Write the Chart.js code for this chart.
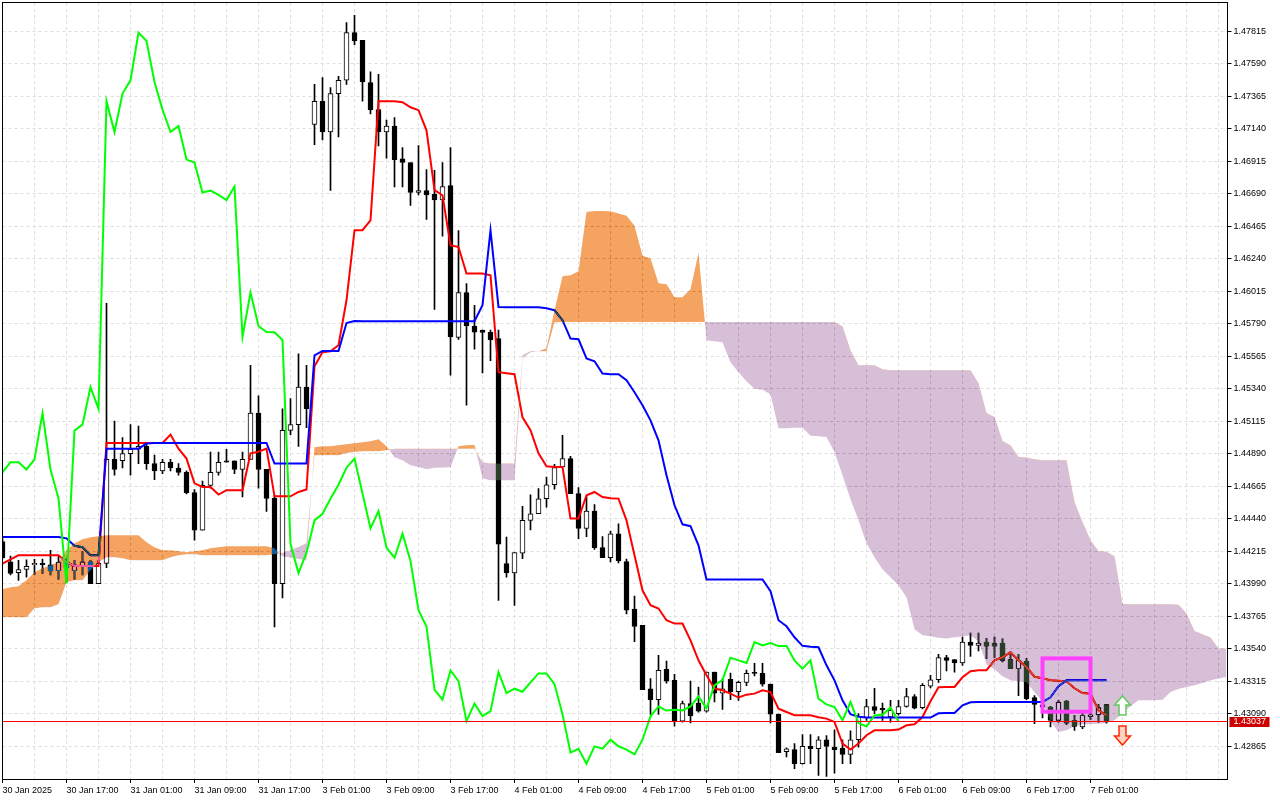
<!DOCTYPE html>
<html lang="en">
<head>
  <meta charset="UTF-8">
  <title>USDCAD H1 Ichimoku</title>
  <script src="https://cdn.jsdelivr.net/npm/chart.js@4.4.1/dist/chart.umd.min.js"></script>
  <style>
    html, body { margin: 0; padding: 0; background: #fff; }
    canvas { display: block; }
  </style>
</head>
<body>
  <canvas id="chart" width="1280" height="800"></canvas>
  <script>
    // time labels, one every 8 hourly bars (bar 0 = 30 Jan 09:00)
    const xTickLabels = ['30 Jan 2025', '30 Jan 17:00', '31 Jan 01:00', '31 Jan 09:00', '31 Jan 17:00',
      '3 Feb 01:00', '3 Feb 09:00', '3 Feb 17:00', '4 Feb 01:00', '4 Feb 09:00', '4 Feb 17:00',
      '5 Feb 01:00', '5 Feb 09:00', '5 Feb 17:00', '6 Feb 01:00', '6 Feb 09:00', '6 Feb 17:00', '7 Feb 01:00'];
    const gridBars = [0, 4, 8, 12, 16, 20, 24, 28, 32, 36, 40, 44, 48, 52, 56, 60, 64, 68, 72, 76,
      80, 84, 88, 92, 96, 100, 104, 108, 112, 116, 120, 124, 128, 132, 136, 140, 144, 148, 152];
    const yTickValues = [1.47815, 1.47590, 1.47365, 1.47140, 1.46915, 1.46690, 1.46465, 1.46240,
      1.46015, 1.45790, 1.45565, 1.45340, 1.45115, 1.44890, 1.44665, 1.44440, 1.44215, 1.43990,
      1.43765, 1.43540, 1.43315, 1.43090, 1.42865];

    const opens = [
      1.4428, 1.4414, 1.44065, 1.44087, 1.4412, 1.4413, 1.4412, 1.4408, 1.4414, 1.4408,
      1.4411, 1.4414, 1.4399, 1.4413, 1.4485, 1.4484, 1.4489, 1.4492, 1.4494, 1.4482,
      1.4477, 1.4483, 1.4479, 1.4476, 1.4462, 1.4436, 1.4467, 1.4476, 1.4484, 1.4484,
      1.4478, 1.4485, 1.4517, 1.4478, 1.4458, 1.4399, 1.4505, 1.4509, 1.4535, 1.47168,
      1.47328, 1.47116, 1.47382, 1.47474, 1.47804, 1.47751, 1.47458, 1.47271, 1.47116, 1.47157,
      1.46930, 1.46905, 1.46697, 1.46711, 1.46685, 1.46645, 1.46745, 1.45694, 1.46004, 1.45773,
      1.45745, 1.45729, 1.45686, 1.44128, 1.44063, 1.44201, 1.44427, 1.44473, 1.44577, 1.44674,
      1.44798, 1.44855, 1.44613, 1.44371, 1.44492, 1.44239, 1.44169, 1.44335, 1.44142, 1.43813,
      1.43700, 1.43262, 1.43186, 1.43397, 1.43320, 1.43038, 1.43159, 1.43163, 1.43107, 1.43377,
      1.43232, 1.43327, 1.43241, 1.43306, 1.43370, 1.43368, 1.43294, 1.43086, 1.42827, 1.42840,
      1.42743, 1.42863, 1.42847, 1.42909, 1.42858, 1.42851, 1.42807, 1.42909, 1.43062, 1.43139,
      1.43127, 1.43066, 1.43090, 1.43139, 1.43208, 1.43130, 1.43280, 1.43324, 1.43477, 1.43463,
      1.43440, 1.43585, 1.43562, 1.43585, 1.43574, 1.43578, 1.43463, 1.43401, 1.43451, 1.43200,
      1.43150, 1.43135, 1.43043, 1.43176, 1.43043, 1.42997, 1.43070, 1.43080, 1.43153];
    const highs = [
      1.4430, 1.4418, 1.44151, 1.44155, 1.44157, 1.4416, 1.4422, 1.4418, 1.4416, 1.4415,
      1.4421, 1.4415, 1.4415, 1.4593, 1.45115, 1.4500, 1.4509, 1.4508, 1.4496, 1.4488,
      1.4485, 1.4485, 1.4482, 1.4477, 1.4464, 1.4470, 1.4490, 1.4490, 1.4492, 1.4484,
      1.4490, 1.4550, 1.4529, 1.4478, 1.4460, 1.4520, 1.4527, 1.4558, 1.4550, 1.47446,
      1.47493, 1.47423, 1.47502, 1.47873, 1.47924, 1.47751, 1.47532, 1.47515, 1.47199, 1.47215,
      1.47008, 1.46905, 1.47022, 1.46856, 1.46851, 1.46904, 1.47008, 1.46434, 1.46066, 1.45916,
      1.45745, 1.45745, 1.45745, 1.44312, 1.44204, 1.44525, 1.44604, 1.44647, 1.44727, 1.44815,
      1.45016, 1.44871, 1.44655, 1.44595, 1.44537, 1.44316, 1.44353, 1.44404, 1.44160, 1.43904,
      1.43700, 1.43332, 1.43493, 1.43454, 1.43361, 1.43177, 1.43315, 1.43273, 1.43377, 1.43377,
      1.43332, 1.43371, 1.43315, 1.43391, 1.43438, 1.43438, 1.43294, 1.43086, 1.42853, 1.42882,
      1.42945, 1.42945, 1.42931, 1.42938, 1.42978, 1.42909, 1.42971, 1.43090, 1.43188, 1.43265,
      1.43163, 1.43181, 1.43181, 1.43265, 1.43222, 1.43297, 1.43355, 1.43500, 1.43493, 1.43463,
      1.43620, 1.43647, 1.43647, 1.43610, 1.43620, 1.43608, 1.43516, 1.43500, 1.43470, 1.43215,
      1.43180, 1.43140, 1.43181, 1.43181, 1.43077, 1.43090, 1.43112, 1.43153, 1.43153];
    const lows = [
      1.4416, 1.4405, 1.44012, 1.44035, 1.44054, 1.4406, 1.4405, 1.4402, 1.4400, 1.4402,
      1.4405, 1.4399, 1.4399, 1.4410, 1.4474, 1.4479, 1.4474, 1.4482, 1.4478, 1.4471,
      1.4475, 1.4477, 1.4474, 1.4461, 1.4429, 1.4436, 1.4465, 1.4474, 1.4483, 1.4475,
      1.4459, 1.4485, 1.4465, 1.4449, 1.4369, 1.4389, 1.4502, 1.4494, 1.4507, 1.47029,
      1.47061, 1.46712, 1.47082, 1.47446, 1.47721, 1.47330, 1.47242, 1.47019, 1.46935, 1.46735,
      1.46735, 1.46607, 1.46680, 1.46510, 1.45887, 1.46394, 1.45432, 1.45680, 1.45225, 1.45612,
      1.45448, 1.45533, 1.43874, 1.44035, 1.43838, 1.44162, 1.44362, 1.44473, 1.44519, 1.44643,
      1.44798, 1.44613, 1.44300, 1.44315, 1.44227, 1.44169, 1.44139, 1.44132, 1.43780, 1.43588,
      1.43255, 1.43084, 1.43084, 1.43301, 1.43003, 1.43031, 1.43026, 1.43100, 1.43100, 1.43170,
      1.43119, 1.43186, 1.43181, 1.43283, 1.43350, 1.43280, 1.43026, 1.42820, 1.42790, 1.42709,
      1.42740, 1.42743, 1.42662, 1.42655, 1.42677, 1.42743, 1.42743, 1.42858, 1.43043, 1.43090,
      1.43043, 1.43031, 1.43079, 1.43135, 1.43123, 1.43123, 1.43268, 1.43305, 1.43385, 1.43377,
      1.43424, 1.43486, 1.43523, 1.43472, 1.43477, 1.43447, 1.43401, 1.43214, 1.43186, 1.43020,
      1.43060, 1.42997, 1.43031, 1.43015, 1.42974, 1.42986, 1.43048, 1.43031, 1.43024];
    const closes = [
      1.4417, 1.4406, 1.44087, 1.4411, 1.4413, 1.4412, 1.44077, 1.44139, 1.4410, 1.4412,
      1.4414, 1.4399, 1.4413, 1.4485, 1.4478, 1.4489, 1.4492, 1.4494, 1.4482, 1.4477,
      1.4483, 1.4479, 1.4476, 1.4462, 1.4436, 1.4467, 1.4476, 1.4483, 1.4483, 1.4478,
      1.4485, 1.4517, 1.4478, 1.4458, 1.4399, 1.4505, 1.4509, 1.4535, 1.4520, 1.47329,
      1.47116, 1.47382, 1.47474, 1.47804, 1.47746, 1.47462, 1.47271, 1.47116, 1.47157, 1.46925,
      1.46905, 1.46697, 1.46711, 1.46681, 1.46645, 1.46738, 1.45698, 1.46004, 1.45773, 1.45731,
      1.45729, 1.45676, 1.44263, 1.44063, 1.44204, 1.44427, 1.44473, 1.44577, 1.44674, 1.44792,
      1.44855, 1.44613, 1.44371, 1.44492, 1.44239, 1.44169, 1.44335, 1.44146, 1.43806, 1.43693,
      1.43255, 1.43186, 1.43389, 1.43315, 1.43038, 1.43159, 1.43073, 1.43107, 1.43377, 1.43232,
      1.43262, 1.43241, 1.43306, 1.43368, 1.43368, 1.43294, 1.43086, 1.42820, 1.42846, 1.42743,
      1.42863, 1.42847, 1.42909, 1.42863, 1.42840, 1.42807, 1.42909, 1.43071, 1.43139, 1.43111,
      1.43116, 1.43112, 1.43139, 1.43208, 1.43127, 1.43285, 1.43324, 1.43477, 1.43458, 1.43440,
      1.43585, 1.43562, 1.43578, 1.43557, 1.43557, 1.43458, 1.43401, 1.43458, 1.43193, 1.43153,
      1.43135, 1.43043, 1.43170, 1.43024, 1.43001, 1.43077, 1.43081, 1.43131, 1.43037];

    // Ichimoku lines
    const tenkan = [
      1.44128, 1.44158, 1.44186, 1.44186, 1.44186, 1.44186, 1.44186, 1.44186, 1.44139, 1.44112,
      1.44112, 1.44112, 1.44112, 1.44963, 1.44963, 1.44963, 1.44963, 1.44963, 1.44963, 1.44963,
      1.44963, 1.45021, 1.44924, 1.44855, 1.44684, 1.44659, 1.44659, 1.44606, 1.44636, 1.44636,
      1.44636, 1.44892, 1.44903, 1.44924, 1.44594, 1.44594, 1.44594, 1.44624, 1.44641, 1.45494,
      1.45591, 1.45598, 1.45640, 1.45951, 1.46436, 1.46436, 1.46505, 1.47329, 1.47329, 1.47329,
      1.47322, 1.47287, 1.47267, 1.47128, 1.46713, 1.46678, 1.46332, 1.46320, 1.46136, 1.46136,
      1.46136, 1.46124, 1.45453, 1.45446, 1.45439, 1.45141, 1.45051, 1.44892, 1.44802, 1.44797,
      1.44797, 1.44440, 1.44440, 1.44601, 1.44624, 1.44589, 1.44580, 1.44578, 1.44428, 1.44186,
      1.43943, 1.43840, 1.43817, 1.43736, 1.43713, 1.43713, 1.43597, 1.43459, 1.43355, 1.43263,
      1.43251, 1.43228, 1.43201, 1.43221, 1.43228, 1.43251, 1.43239, 1.43124, 1.43101, 1.43078,
      1.43078, 1.43078, 1.43064, 1.43055, 1.43032, 1.42882, 1.42841, 1.42882, 1.42940, 1.42974,
      1.42974, 1.42974, 1.42979, 1.43009, 1.43016, 1.43066, 1.43175, 1.43272, 1.43274, 1.43274,
      1.43341, 1.43383, 1.43390, 1.43390, 1.43459, 1.43480, 1.43514, 1.43459, 1.43412, 1.43345,
      1.43334, 1.43320, 1.43317, 1.43313, 1.43265, 1.43232, 1.43228, 1.43113, 1.43078];
    const kijun = [
      1.44312, 1.44312, 1.44312, 1.44312, 1.44312, 1.44312, 1.44312, 1.44312, 1.44303, 1.44251,
      1.44241, 1.44186, 1.44186, 1.44924, 1.44924, 1.44924, 1.44924, 1.44924, 1.44959, 1.44963,
      1.44963, 1.44963, 1.44963, 1.44963, 1.44963, 1.44963, 1.44963, 1.44963, 1.44963, 1.44963,
      1.44963, 1.44963, 1.44963, 1.44963, 1.44821, 1.44821, 1.44821, 1.44821, 1.44821, 1.45570,
      1.45600, 1.45600, 1.45600, 1.45794, 1.45808, 1.45806, 1.45806, 1.45806, 1.45806, 1.45806,
      1.45806, 1.45806, 1.45806, 1.45806, 1.45806, 1.45806, 1.45806, 1.45806, 1.45806, 1.45806,
      1.45917, 1.46436, 1.45905, 1.45903, 1.45903, 1.45903, 1.45903, 1.45903, 1.45896, 1.45882,
      1.45813, 1.45686, 1.45681, 1.45548, 1.45529, 1.45444, 1.45439, 1.45439, 1.45397, 1.45314,
      1.45224, 1.45120, 1.44982, 1.44740, 1.44532, 1.44400, 1.44387, 1.44255, 1.44018, 1.44018,
      1.44018, 1.44018, 1.44018, 1.44018, 1.44018, 1.44018, 1.43937, 1.43736, 1.43694, 1.43618,
      1.43559, 1.43552, 1.43549, 1.43424, 1.43320, 1.43182, 1.43085, 1.43068, 1.43062, 1.43062,
      1.43062, 1.43062, 1.43062, 1.43062, 1.43062, 1.43062, 1.43062, 1.43092, 1.43094, 1.43094,
      1.43147, 1.43168, 1.43170, 1.43170, 1.43170, 1.43170, 1.43170, 1.43170, 1.43170, 1.43170,
      1.43170, 1.43203, 1.43279, 1.43320, 1.43320, 1.43320, 1.43320, 1.43320, 1.43320];
    const chikou = [
      1.4476, 1.4483, 1.4483, 1.4478, 1.4485, 1.4517, 1.4478, 1.4458, 1.4399, 1.4505,
      1.4509, 1.4535, 1.4520, 1.47329, 1.47116, 1.47382, 1.47474, 1.47804, 1.47746, 1.47462,
      1.47271, 1.47116, 1.47157, 1.46925, 1.46905, 1.46697, 1.46711, 1.46681, 1.46645, 1.46738,
      1.45698, 1.46004, 1.45773, 1.45731, 1.45729, 1.45676, 1.44263, 1.44063, 1.44204, 1.44427,
      1.44473, 1.44577, 1.44674, 1.44792, 1.44855, 1.44613, 1.44371, 1.44492, 1.44239, 1.44169,
      1.44335, 1.44146, 1.43806, 1.43693, 1.43255, 1.43186, 1.43389, 1.43315, 1.43038, 1.43159,
      1.43073, 1.43107, 1.43377, 1.43232, 1.43262, 1.43241, 1.43306, 1.43368, 1.43368, 1.43294,
      1.43086, 1.42820, 1.42846, 1.42743, 1.42863, 1.42847, 1.42909, 1.42863, 1.42840, 1.42807,
      1.42909, 1.43071, 1.43139, 1.43111, 1.43116, 1.43112, 1.43139, 1.43208, 1.43127, 1.43285,
      1.43324, 1.43477, 1.43458, 1.43440, 1.43585, 1.43562, 1.43578, 1.43557, 1.43557, 1.43458,
      1.43401, 1.43458, 1.43193, 1.43153, 1.43135, 1.43043, 1.43170, 1.43024, 1.43001, 1.43077,
      1.43081, 1.43131, 1.43037];
    const senkouA = [
      1.43950, 1.43964, 1.43971, 1.44013, 1.44068, 1.44096, 1.44117, 1.44137, 1.44220, 1.44269,
      1.44296, 1.44310, 1.44317, 1.44324, 1.44324, 1.44324, 1.44324, 1.44324, 1.44276, 1.44241,
      1.44220, 1.44220, 1.44213, 1.44207, 1.44213, 1.44220, 1.44234, 1.44241, 1.44248, 1.44248,
      1.44248, 1.44248, 1.44248, 1.44248, 1.44234, 1.44179, 1.44170, 1.44160, 1.44151, 1.44933,
      1.44940, 1.44940, 1.44947, 1.44954, 1.44961, 1.44968, 1.44975, 1.44989, 1.44940, 1.44864,
      1.44843, 1.44809, 1.44797, 1.44781, 1.44792, 1.44793, 1.44795, 1.44940, 1.44947, 1.44950,
      1.44719, 1.44705, 1.44705, 1.44705, 1.44705, 1.45550, 1.45591, 1.45598, 1.45619, 1.45882,
      1.46117, 1.46124, 1.46152, 1.46562, 1.46569, 1.46569, 1.46567, 1.46551, 1.46536, 1.46467,
      1.46259, 1.46242, 1.46069, 1.46062, 1.45972, 1.45972, 1.46027, 1.46280, 1.45674, 1.45667,
      1.45660, 1.45522, 1.45453, 1.45390, 1.45338, 1.45331, 1.45300, 1.45065, 1.45065, 1.45068,
      1.45068, 1.45013, 1.45010, 1.45005, 1.44901, 1.44740, 1.44573, 1.44428, 1.44269, 1.44172,
      1.44089, 1.44033, 1.43978, 1.43895, 1.43673, 1.43632, 1.43625, 1.43615, 1.43609, 1.43618,
      1.43623, 1.43632, 1.43590, 1.43431, 1.43397, 1.43348, 1.43320, 1.43313, 1.43306, 1.43237,
      1.43175, 1.43037, 1.42962, 1.42974, 1.43002, 1.43016, 1.43018, 1.43020, 1.43023, 1.43043,
      1.43092, 1.43140, 1.43182, 1.43182, 1.43182, 1.43185, 1.43239, 1.43260, 1.43274, 1.43286,
      1.43302, 1.43320, 1.43332, 1.43343];
    const senkouB = [
      1.43757, 1.43757, 1.43757, 1.43757, 1.43819, 1.43826, 1.43826, 1.43847, 1.43999, 1.44013,
      1.44013, 1.44082, 1.44137, 1.44172, 1.44172, 1.44165, 1.44151, 1.44151, 1.44151, 1.44151,
      1.44151, 1.44172, 1.44186, 1.44193, 1.44193, 1.44186, 1.44186, 1.44186, 1.44186, 1.44186,
      1.44186, 1.44186, 1.44186, 1.44186, 1.44193, 1.44202, 1.44220, 1.44243, 1.44269, 1.44878,
      1.44878, 1.44878, 1.44878, 1.44894, 1.44901, 1.44906, 1.44906, 1.44906, 1.44913, 1.44924,
      1.44924, 1.44924, 1.44924, 1.44924, 1.44924, 1.44924, 1.44924, 1.44924, 1.44924, 1.44924,
      1.44830, 1.44821, 1.44821, 1.44821, 1.44821, 1.45570, 1.45598, 1.45598, 1.45598, 1.45799,
      1.45801, 1.45801, 1.45801, 1.45801, 1.45801, 1.45801, 1.45801, 1.45801, 1.45801, 1.45801,
      1.45801, 1.45801, 1.45801, 1.45801, 1.45801, 1.45801, 1.45801, 1.45801, 1.45801, 1.45801,
      1.45801, 1.45801, 1.45801, 1.45801, 1.45801, 1.45801, 1.45801, 1.45801, 1.45801, 1.45801,
      1.45801, 1.45801, 1.45801, 1.45801, 1.45799, 1.45771, 1.45605, 1.45501, 1.45501, 1.45501,
      1.45473, 1.45467, 1.45467, 1.45467, 1.45467, 1.45467, 1.45467, 1.45467, 1.45467, 1.45467,
      1.45467, 1.45467, 1.45377, 1.45171, 1.45143, 1.44977, 1.44947, 1.44866, 1.44862, 1.44850,
      1.44843, 1.44843, 1.44843, 1.44843, 1.44555, 1.44416, 1.44290, 1.44213, 1.44211, 1.44179,
      1.43851, 1.43847, 1.43847, 1.43847, 1.43847, 1.43847, 1.43847, 1.43843, 1.43782, 1.43662,
      1.43639, 1.43616, 1.43540, 1.43540];

    // objects on the chart: bid, signal box, arrows
    const lastPrice = 1.43037;
    const signalBox = { from: 130, to: 136, top: 1.43472, bottom: 1.43103 };
    const arrowBar = 140;
    const upArrowPrice = 1.43078;
    const downArrowPrice = 1.43002;

    const pts = arr => arr.map((v, i) => ({ x: i, y: v }));

    function drawArrow(ctx, cx, y0, dir) {
      const s = dir === 'up' ? -1 : 1;
      const shape = [[-3.5, 0], [3.5, 0], [3.5, 10], [8, 10], [0, 19], [-8, 10], [-3.5, 10]];
      ctx.beginPath();
      shape.forEach(([dx, dy], k) => {
        const px = cx + dx, py = y0 + s * dy;
        k ? ctx.lineTo(px, py) : ctx.moveTo(px, py);
      });
      ctx.closePath();
      ctx.fillStyle = dir === 'up' ? '#ffffff' : '#ffd2c2';
      ctx.fill();
      ctx.lineWidth = 1.5;
      ctx.strokeStyle = dir === 'up' ? '#63c95a' : '#ff2a00';
      ctx.stroke();
    }

    // cloud is painted in "difference" mode over candles and lines, like the terminal does
    const cloudBlend = {
      id: 'cloudBlend',
      beforeDraw(chart) {
        const ctx = chart.ctx;
        ctx.save();
        ctx.fillStyle = '#ffffff';
        ctx.fillRect(0, 0, chart.width, chart.height);
        ctx.restore();
      },
      afterDatasetDraw(chart, args) {
        if (args.index === 3) chart.ctx.globalCompositeOperation = 'difference';
      },
      beforeDatasetDraw(chart, args) {
        if (args.index === 4) chart.ctx.globalCompositeOperation = 'source-over';
      }
    };

    const overlays = {
      id: 'overlays',
      afterDatasetsDraw(chart) {
        const { ctx, chartArea: a, scales: { x, y } } = chart;
        ctx.save();
        ctx.globalCompositeOperation = 'source-over';
        ctx.beginPath();
        ctx.rect(a.left, a.top, a.right - a.left, a.bottom - a.top);
        ctx.clip();

        const bx1 = x.getPixelForValue(signalBox.from), bx2 = x.getPixelForValue(signalBox.to);
        const by1 = y.getPixelForValue(signalBox.top), by2 = y.getPixelForValue(signalBox.bottom);
        ctx.strokeStyle = '#ff40ff';
        ctx.lineWidth = 4;
        ctx.strokeRect(bx1, by1, bx2 - bx1, by2 - by1);

        drawArrow(ctx, x.getPixelForValue(arrowBar), Math.round(y.getPixelForValue(upArrowPrice)), 'up');
        drawArrow(ctx, x.getPixelForValue(arrowBar), Math.round(y.getPixelForValue(downArrowPrice)), 'down');
        ctx.restore();
      },
      afterDraw(chart) {
        const { ctx, chartArea: a, scales: { y } } = chart;
        ctx.save();
        ctx.globalCompositeOperation = 'source-over';
        const py = Math.round(y.getPixelForValue(lastPrice));
        // bid line
        ctx.fillStyle = '#ff0000';
        ctx.fillRect(a.left, py, a.right - a.left, 1);

        ctx.strokeStyle = '#000';
        ctx.lineWidth = 1;
        ctx.strokeRect(2.5, 2.5, a.right - 2.5, a.bottom - 2);

        ctx.fillStyle = '#cc0000';
        ctx.fillRect(a.right + 2, py - 4, 40, 10);
        ctx.fillStyle = '#ffffff';
        ctx.font = '9px "Liberation Sans", Arial, sans-serif';
        ctx.textBaseline = 'middle';
        ctx.fillText(lastPrice.toFixed(5), a.right + 6, py + 1);
        ctx.restore();
      }
    };

    Chart.defaults.font.family = '"Liberation Sans", Arial, sans-serif';
    Chart.defaults.font.size = 9;
    Chart.defaults.color = '#000';

    new Chart(document.getElementById('chart'), {
      type: 'bar',
      data: {
        datasets: [
          {
            label: 'wicks',
            data: lows.map((l, i) => ({ x: i, y: [l, highs[i]] })),
            backgroundColor: '#000',
            borderWidth: 0,
            barThickness: 1,
            grouped: false,
            order: 7
          },
          {
            label: 'bodies',
            data: opens.map((o, i) => ({ x: i, y: [o, closes[i]] })),
            backgroundColor: opens.map((o, i) => closes[i] >= o ? '#ffffff' : '#000000'),
            borderColor: '#000',
            borderWidth: 1,
            borderSkipped: false,
            barThickness: 5,
            minBarLength: 1,
            grouped: false,
            order: 6
          },
          {
            type: 'line', label: 'Tenkan-sen', data: pts(tenkan),
            borderColor: '#ff0000', borderWidth: 2, pointRadius: 0, tension: 0, fill: false, order: 5
          },
          {
            type: 'line', label: 'Kijun-sen', data: pts(kijun),
            borderColor: '#0000ff', borderWidth: 2, pointRadius: 0, tension: 0, fill: false, order: 4
          },
          {
            // the cloud itself: sandy brown where A is above B, thistle where B is above A
            type: 'line', label: 'Senkou Span A', data: pts(senkouA),
            borderColor: 'rgba(0,0,0,0)', borderWidth: 1, pointRadius: 0, tension: 0,
            fill: { target: '+1', above: '#0b5b9f', below: '#274027' }, order: 3
          },
          {
            type: 'line', label: 'Senkou Span B', data: pts(senkouB),
            borderColor: 'rgba(0,0,0,0)', borderWidth: 1, pointRadius: 0, tension: 0, fill: false, order: 2
          },
          {
            type: 'line', label: 'Chikou Span', data: pts(chikou),
            borderColor: '#00ff00', borderWidth: 2, pointRadius: 0, tension: 0, fill: false, order: 1
          }
        ]
      },
      options: {
        responsive: false,
        animation: false,
        devicePixelRatio: 1,
        layout: { padding: { left: 2.5, top: 3, right: 0, bottom: 0 } },
        plugins: { legend: { display: false }, tooltip: { enabled: false } },
        scales: {
          x: {
            type: 'linear',
            min: 0,
            max: 153.125,
            offset: false,
            afterBuildTicks: s => { s.ticks = gridBars.map(v => ({ value: v })); },
            afterFit: s => { s.height = 21; s.paddingLeft = 0; s.paddingRight = 0; },
            grid: {
              offset: false,
              color: '#dedede',
              tickLength: 4,
              tickColor: c => (c.tick && c.tick.value % 8 === 0 && c.tick.value / 8 < xTickLabels.length) ? '#000' : 'rgba(0,0,0,0)',
              tickBorderDash: []
            },
            border: { color: '#000', dash: [3, 3] },
            ticks: {
              autoSkip: false,
              maxRotation: 0,
              align: 'start',
              padding: 2,
              callback: v => (v % 8 === 0 && v / 8 < xTickLabels.length) ? xTickLabels[v / 8] : ''
            }
          },
          y: {
            type: 'linear',
            position: 'right',
            min: 1.42637,
            max: 1.48009,
            beginAtZero: false,
            afterBuildTicks: s => { s.ticks = yTickValues.map(v => ({ value: v })); },
            afterFit: s => { s.width = 52.5; s.paddingTop = 0; s.paddingBottom = 0; },
            grid: { color: '#dedede', tickLength: 4, tickColor: '#000', tickBorderDash: [] },
            border: { color: '#000', dash: [3, 3] },
            ticks: { autoSkip: false, padding: 2, callback: v => v.toFixed(5) }
          }
        }
      },
      plugins: [cloudBlend, overlays]
    });
  </script>
</body>
</html>
